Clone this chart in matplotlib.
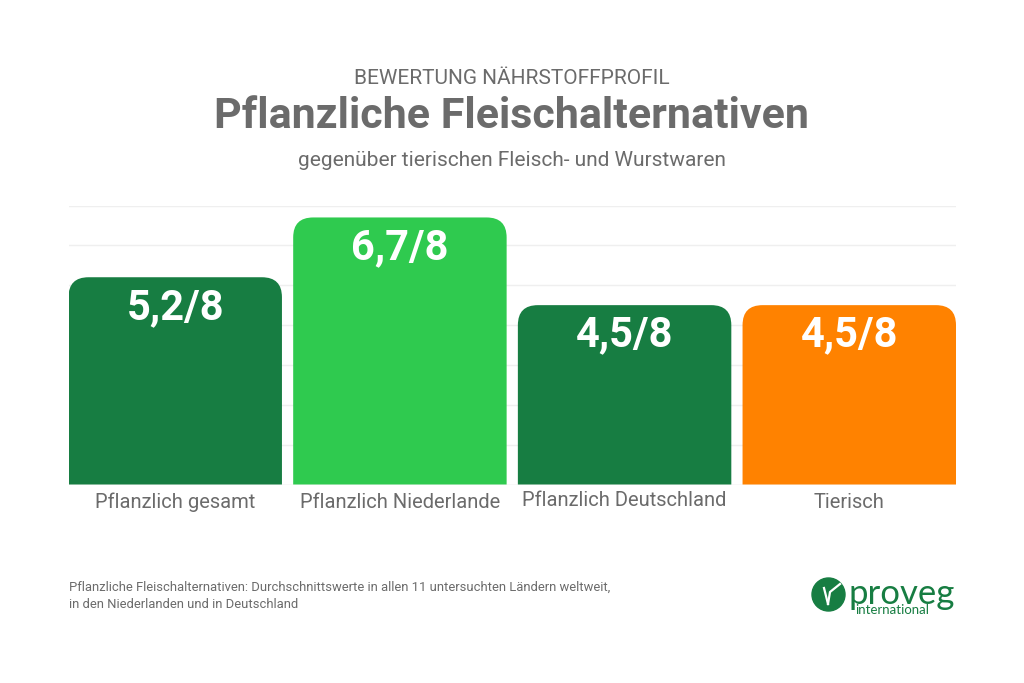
import matplotlib
matplotlib.use('Agg')
import matplotlib.pyplot as plt
from matplotlib.patches import Circle, PathPatch
from matplotlib.path import Path

W, H = 1024, 683
NARROW = ['Liberation Sans Narrow', 'Roboto', 'DejaVu Sans']

categories = ['Pflanzlich gesamt', 'Pflanzlich Niederlande', 'Pflanzlich Deutschland', 'Tierisch']
scores = [5.2, 6.7, 4.5, 4.5]
score_labels = ['5,2/8', '6,7/8', '4,5/8', '4,5/8']
bar_colors = ['#177d42', '#2fca4f', '#177d42', '#ff8200']
grid_levels = [1, 2, 3, 4, 5, 6, 7]

GREY = '#6b6b6b'
BAR_W = 0.95
RAD_PX = 20


def top_rounded_bar(x, h, width, rx, ry):
    l, r = x - width / 2, x + width / 2
    verts = [(l, 0), (l, h - ry), (l, h), (l + rx, h), (r - rx, h), (r, h), (r, h - ry), (r, 0), (l, 0)]
    codes = [Path.MOVETO, Path.LINETO, Path.CURVE3, Path.CURVE3, Path.LINETO,
             Path.CURVE3, Path.CURVE3, Path.LINETO, Path.CLOSEPOLY]
    return Path(verts, codes)


def px_text(x, y, s, **kw):
    kw.setdefault('ha', 'center')
    kw.setdefault('va', 'center')
    return fig.text(x / W, 1 - y / H, s, **kw)


plt.rcParams['font.family'] = ['Roboto', 'DejaVu Sans']
fig = plt.figure(figsize=(W / 100, H / 100), dpi=100, facecolor='white')

# axes placed so that 0 is at y=484 and 7 at y=205
ax = fig.add_axes([68.5 / W, 1 - 484.5 / H, 887.5 / W, 279 / H])
ax.set_xlim(-BAR_W / 2, 3 + BAR_W / 2)
ax.set_ylim(0, 7)
ax.axis('off')

for lvl in grid_levels:
    ax.axhline(lvl, color='#efefef', linewidth=1, zorder=1)
ax.axhline(0, color='#dddddd', linewidth=1, zorder=1)

rx = RAD_PX / (887.5 / (3 + BAR_W))
ry = RAD_PX / (279 / 7)
for i, (v, c, lab) in enumerate(zip(scores, bar_colors, score_labels)):
    ax.add_patch(PathPatch(top_rounded_bar(i, v, BAR_W, rx, ry), facecolor=c, edgecolor='none', zorder=2))
    ax.annotate(lab, (i, v), xytext=(0, -30), textcoords='offset pixels', ha='center', va='center',
                color='white', fontsize=30, fontweight='bold', family=NARROW, zorder=3)

label_y = [502, 502, 500.5, 502]
for i, (name, ly) in enumerate(zip(categories, label_y)):
    xp = 68.5 + (i + BAR_W / 2) * 887.5 / (3 + BAR_W)
    px_text(xp, ly, name, fontsize=14.5, color=GREY)

px_text(512, 79, 'BEWERTUNG NÄHRSTOFFPROFIL', fontsize=15, color=GREY, family=NARROW)
px_text(512, 117, 'Pflanzliche Fleischalternativen', fontsize=31, fontweight='bold', color=GREY, family=NARROW)
px_text(512, 161, 'gegenüber tierischen Fleisch- und Wurstwaren', fontsize=15, color=GREY, family=NARROW)

px_text(69, 587, 'Pflanzliche Fleischalternativen: Durchschnittswerte in allen 11 untersuchten Ländern weltweit,',
        fontsize=9.4, color=GREY, ha='left')
px_text(69, 605, 'in den Niederlanden und in Deutschland', fontsize=9.4, color=GREY, ha='left')

# logo
logo = fig.add_axes([0, 0, 1, 1], facecolor='none')
logo.set_xlim(0, W)
logo.set_ylim(H, 0)
logo.axis('off')
logo.add_patch(Circle((828.5, 594.5), 16.5, color='#177d42'))
logo.plot([824, 828, 828], [588, 604, 604], color='white', linewidth=1.6)
logo.plot([828, 830, 840], [604, 592, 584], color='white', linewidth=1.6)
px_text(902, 594, 'proveg', fontsize=25, color='#177d42', family=['Lato', 'DejaVu Sans'])
px_text(892, 610.5, 'international', fontsize=9.5, color='#177d42', family=['Lato', 'DejaVu Sans'])

fig.savefig('out.png', dpi=100)
